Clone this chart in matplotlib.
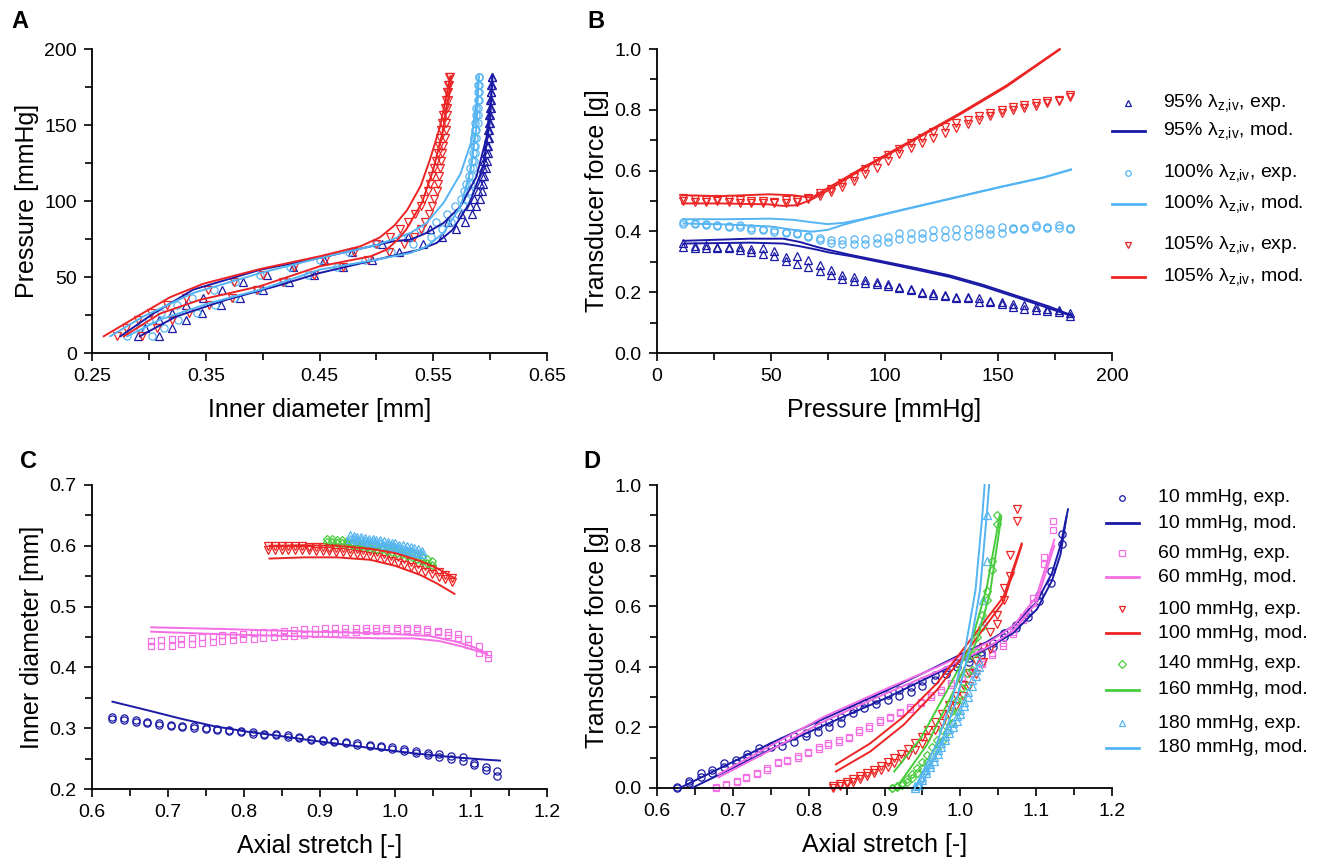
import matplotlib
matplotlib.use('Agg')
import matplotlib.pyplot as plt
from matplotlib.lines import Line2D
from matplotlib.ticker import FixedLocator, MultipleLocator, FormatStrFormatter

plt.rcParams['font.family'] = ['Liberation Sans', 'DejaVu Sans']

# colours
NAVY = '#1a1aa6'
SKY = '#55b4f2'
RED = '#ec2424'
PINK = '#f46ee4'
GREEN = '#48cc3c'

# ---------------- panel A / B : pressure sweeps ----------------
P_EXP = [11.5, 16.5, 21.5, 26.5, 31.5, 36.5, 41.5, 46.5, 51.5, 56.5, 61.5, 66.5,
         71.5, 76.5, 81.5, 86.5, 91.5, 96.5, 101.5, 106.5, 111.5, 116.5, 121.5,
         126.5, 131.5, 136.5, 141.5, 146.5, 151.5, 156.5, 161.5, 166.5, 171.5,
         176.5, 181.5]

# A: inner diameter [mm] of the experimental points (two runs per stretch)
A_D95_EXP1 = [0.290, 0.297, 0.309, 0.320, 0.333, 0.348, 0.364, 0.383, 0.404, 0.427, 0.454,
              0.479, 0.505, 0.528, 0.547, 0.563, 0.574, 0.582, 0.586, 0.589, 0.591, 0.593,
              0.594, 0.595, 0.596, 0.597, 0.598, 0.598, 0.599, 0.599, 0.600, 0.600, 0.601,
              0.601, 0.602]
A_D95_EXP2 = [0.309, 0.320, 0.333, 0.347, 0.363, 0.380, 0.400, 0.423, 0.445, 0.471, 0.496,
              0.520, 0.541, 0.558, 0.570, 0.578, 0.584, 0.588, 0.591, 0.593, 0.594, 0.595,
              0.596, 0.597, 0.598, 0.598, 0.599, 0.599, 0.600, 0.600, 0.601, 0.601, 0.601,
              0.602, 0.602]
A_D100_EXP1 = [0.281, 0.292, 0.300, 0.311, 0.325, 0.338, 0.357, 0.376, 0.398, 0.424, 0.450,
               0.476, 0.500, 0.522, 0.538, 0.552, 0.562, 0.569, 0.574, 0.577, 0.579, 0.581,
               0.582, 0.584, 0.585, 0.586, 0.586, 0.587, 0.587, 0.588, 0.588, 0.589, 0.589,
               0.589, 0.590]
A_D100_EXP2 = [0.303, 0.313, 0.326, 0.342, 0.358, 0.375, 0.395, 0.418, 0.440, 0.465, 0.490,
               0.513, 0.532, 0.548, 0.558, 0.566, 0.572, 0.576, 0.579, 0.581, 0.583, 0.584,
               0.585, 0.586, 0.587, 0.587, 0.588, 0.588, 0.589, 0.589, 0.589, 0.590, 0.590,
               0.590, 0.590]
A_D105_EXP1 = [0.272, 0.280, 0.290, 0.302, 0.316, 0.333, 0.352, 0.375, 0.400, 0.428, 0.455,
               0.480, 0.500, 0.512, 0.521, 0.528, 0.534, 0.539, 0.542, 0.545, 0.547, 0.549,
               0.551, 0.552, 0.554, 0.555, 0.556, 0.557, 0.558, 0.559, 0.560, 0.561, 0.562,
               0.563, 0.564]
A_D105_EXP2 = [0.294, 0.307, 0.320, 0.335, 0.353, 0.373, 0.395, 0.418, 0.445, 0.471, 0.493,
               0.511, 0.524, 0.533, 0.539, 0.543, 0.546, 0.549, 0.551, 0.553, 0.554, 0.555,
               0.556, 0.557, 0.558, 0.559, 0.560, 0.561, 0.561, 0.562, 0.562, 0.563, 0.563,
               0.564, 0.565]

# A: model curves (pressure, diameter)
A_P95_MOD1 = [11, 26, 41.7, 54.8, 62.5, 71, 73.5, 74.6, 79, 85.5, 96.5, 116, 142.5, 171, 182]
A_D95_MOD1 = [0.275, 0.304, 0.339, 0.398, 0.45, 0.5, 0.515, 0.53, 0.544, 0.559, 0.574, 0.588,
              0.597, 0.601, 0.602]
A_P95_MOD2 = [11, 24, 35, 44, 52.6, 61.4, 68, 72.4, 81, 98.7, 122.8, 153.5, 182]
A_D95_MOD2 = [0.292, 0.324, 0.368, 0.412, 0.45, 0.5, 0.538, 0.553, 0.567, 0.582, 0.594, 0.6, 0.602]
A_P100_MOD1 = [11, 24, 39.5, 52.6, 62.5, 71, 79, 85.5, 98.7, 118, 138, 164.5, 182]
A_D100_MOD1 = [0.266, 0.295, 0.339, 0.398, 0.45, 0.5, 0.53, 0.544, 0.559, 0.574, 0.583, 0.588, 0.59]
A_P100_MOD2 = [11, 22, 33, 41.7, 54.8, 61.4, 65.8, 70, 79, 96.5, 120.6, 149, 182]
A_D100_MOD2 = [0.281, 0.31, 0.354, 0.398, 0.45, 0.5, 0.53, 0.544, 0.559, 0.574, 0.583, 0.588, 0.59]
A_P105_MOD1 = [11, 24, 36.8, 45.6, 55.3, 63.6, 70.2, 76, 84, 94, 110, 127, 149, 171, 182]
A_D105_MOD1 = [0.2603, 0.2896, 0.3189, 0.348, 0.398, 0.45, 0.486, 0.503, 0.516, 0.527, 0.539,
               0.547, 0.556, 0.562, 0.565]
A_P105_MOD2 = [11, 26, 35, 44, 57, 63.6, 68, 74, 81, 98.7, 120.6, 144.7, 166.7, 182]
A_D105_MOD2 = [0.278, 0.31, 0.345, 0.398, 0.45, 0.495, 0.509, 0.518, 0.526, 0.540, 0.550, 0.558,
               0.563, 0.566]

# B: transducer force [g] of the experimental points
B_F95_EXP1 = [0.362, 0.352, 0.354, 0.350, 0.350, 0.349, 0.343, 0.345, 0.334, 0.315, 0.319,
              0.307, 0.290, 0.273, 0.257, 0.251, 0.240, 0.232, 0.226, 0.218, 0.212, 0.202,
              0.196, 0.190, 0.185, 0.185, 0.180, 0.171, 0.169, 0.161, 0.157, 0.150, 0.144,
              0.141, 0.133]
B_F95_EXP2 = [0.349, 0.345, 0.345, 0.345, 0.344, 0.338, 0.332, 0.327, 0.318, 0.301, 0.293,
              0.282, 0.271, 0.257, 0.244, 0.238, 0.229, 0.228, 0.222, 0.214, 0.208, 0.198,
              0.192, 0.186, 0.181, 0.181, 0.169, 0.167, 0.161, 0.152, 0.144, 0.141, 0.139,
              0.135, 0.122]
B_F100_EXP1 = [0.431, 0.426, 0.424, 0.420, 0.417, 0.420, 0.412, 0.409, 0.404, 0.398, 0.395,
               0.384, 0.378, 0.373, 0.371, 0.376, 0.376, 0.378, 0.382, 0.395, 0.396, 0.396,
               0.404, 0.404, 0.407, 0.409, 0.412, 0.409, 0.415, 0.412, 0.412, 0.420, 0.415,
               0.420, 0.412]
B_F100_EXP2 = [0.424, 0.423, 0.420, 0.417, 0.415, 0.413, 0.406, 0.403, 0.398, 0.395, 0.390,
               0.382, 0.371, 0.362, 0.360, 0.360, 0.360, 0.362, 0.365, 0.376, 0.376, 0.378,
               0.382, 0.382, 0.385, 0.385, 0.390, 0.393, 0.396, 0.407, 0.407, 0.415, 0.410,
               0.412, 0.409]
B_F105_EXP1 = [0.510, 0.505, 0.503, 0.506, 0.505, 0.502, 0.500, 0.499, 0.498, 0.502, 0.503,
               0.510, 0.525, 0.540, 0.558, 0.580, 0.604, 0.630, 0.652, 0.672, 0.690, 0.708,
               0.726, 0.742, 0.756, 0.768, 0.779, 0.790, 0.800, 0.808, 0.816, 0.822, 0.828,
               0.833, 0.848]
B_F105_EXP2 = [0.500, 0.498, 0.497, 0.500, 0.498, 0.495, 0.494, 0.493, 0.492, 0.495, 0.497,
               0.505, 0.515, 0.530, 0.545, 0.566, 0.588, 0.610, 0.632, 0.655, 0.673, 0.690,
               0.708, 0.724, 0.740, 0.754, 0.766, 0.778, 0.788, 0.798, 0.806, 0.814, 0.822,
               0.830, 0.843]

# B: model curves (pressure, force)
B_P95_MOD = [11.6, 40.9, 55.5, 62.9, 70.2, 76.1, 84.9, 99.5, 114.1, 128.8, 143.4, 158.1, 172.7, 182.2]
B_F95_MOD1 = [0.369, 0.376, 0.376, 0.365, 0.349, 0.338, 0.323, 0.301, 0.279, 0.255, 0.224,
              0.188, 0.152, 0.124]
B_F95_MOD2 = [0.360, 0.363, 0.360, 0.351, 0.340, 0.330, 0.319, 0.297, 0.274, 0.250, 0.219,
              0.183, 0.146, 0.122]
B_P100_MOD = [11.6, 30, 50, 60, 68, 75, 82, 90, 110, 130, 150, 170, 182]
B_F100_MOD1 = [0.440, 0.440, 0.442, 0.438, 0.430, 0.424, 0.428, 0.440, 0.475, 0.510, 0.545,
               0.578, 0.604]
B_F100_MOD2 = [0.426, 0.423, 0.416, 0.405, 0.399, 0.405, 0.422, 0.438, 0.474, 0.509, 0.544,
               0.577, 0.603]
B_P105_MOD1 = [11, 28, 49, 59.6, 68, 74, 91, 112, 133, 153.6, 177]
B_F105_MOD1 = [0.519, 0.516, 0.522, 0.519, 0.511, 0.538, 0.612, 0.700, 0.788, 0.880, 1.0]
B_P105_MOD2 = [11, 28, 49, 55, 61.6, 68, 74, 91, 112, 133, 153.6, 177]
B_F105_MOD2 = [0.492, 0.492, 0.489, 0.484, 0.486, 0.505, 0.530, 0.608, 0.696, 0.784, 0.876, 0.998]

# ---------------- panel C / D : axial stretch sweeps ----------------
L10 = [0.627, 0.642, 0.658, 0.673, 0.688, 0.704, 0.719, 0.735, 0.750, 0.765, 0.781, 0.796,
       0.812, 0.827, 0.842, 0.858, 0.873, 0.889, 0.904, 0.919, 0.935, 0.950, 0.966, 0.981,
       0.996, 1.012, 1.027, 1.043, 1.058, 1.073, 1.089, 1.104, 1.119, 1.134]
L60 = [0.678, 0.691, 0.705, 0.718, 0.732, 0.745, 0.759, 0.772, 0.786, 0.799, 0.813, 0.826,
       0.840, 0.853, 0.867, 0.880, 0.894, 0.907, 0.921, 0.934, 0.948, 0.961, 0.975, 0.988,
       1.002, 1.015, 1.029, 1.042, 1.056, 1.069, 1.083, 1.096, 1.110, 1.122]
L100 = [0.832, 0.841, 0.850, 0.859, 0.868, 0.877, 0.886, 0.895, 0.904, 0.913, 0.922, 0.931,
        0.940, 0.949, 0.958, 0.967, 0.976, 0.985, 0.994, 1.003, 1.012, 1.021, 1.030, 1.039,
        1.048, 1.057, 1.066, 1.075]
L140 = [0.910, 0.917, 0.923, 0.930, 0.936, 0.943, 0.950, 0.956, 0.963, 0.969, 0.976, 0.983,
        0.989, 0.996, 1.002, 1.009, 1.016, 1.022, 1.029, 1.035, 1.042, 1.049]
L180 = [0.940, 0.945, 0.950, 0.955, 0.960, 0.965, 0.970, 0.975, 0.980, 0.985, 0.990, 0.995,
        1.000, 1.005, 1.010, 1.015, 1.020, 1.025, 1.030, 1.035]

# C: inner diameter [mm]
C_D10_EXP1 = [0.319, 0.316, 0.313, 0.311, 0.308, 0.306, 0.304, 0.303, 0.301, 0.299, 0.297,
              0.296, 0.293, 0.291, 0.290, 0.288, 0.286, 0.283, 0.281, 0.279, 0.277, 0.275,
              0.273, 0.271, 0.269, 0.265, 0.263, 0.260, 0.258, 0.254, 0.252, 0.243, 0.237, 0.229]
C_D10_EXP2 = [0.315, 0.313, 0.311, 0.309, 0.306, 0.304, 0.302, 0.301, 0.299, 0.297, 0.295,
              0.294, 0.291, 0.289, 0.288, 0.286, 0.284, 0.281, 0.279, 0.277, 0.275, 0.273,
              0.271, 0.269, 0.266, 0.262, 0.259, 0.256, 0.253, 0.249, 0.246, 0.239, 0.232, 0.222]
C_D60_EXP1 = [0.444, 0.445, 0.446, 0.447, 0.448, 0.450, 0.452, 0.453, 0.454, 0.455, 0.456,
              0.458, 0.459, 0.460, 0.462, 0.463, 0.463, 0.464, 0.464, 0.465, 0.465, 0.465,
              0.465, 0.465, 0.465, 0.464, 0.464, 0.463, 0.460, 0.458, 0.455, 0.447, 0.435, 0.422]
C_D60_EXP2 = [0.435, 0.436, 0.436, 0.438, 0.439, 0.440, 0.442, 0.443, 0.445, 0.446, 0.447,
              0.448, 0.450, 0.451, 0.452, 0.454, 0.455, 0.456, 0.457, 0.458, 0.459, 0.460,
              0.460, 0.462, 0.462, 0.462, 0.462, 0.460, 0.459, 0.453, 0.448, 0.437, 0.424, 0.415]
C_D100_EXP1 = [0.599, 0.599, 0.599, 0.599, 0.599, 0.599, 0.598, 0.598, 0.598, 0.597, 0.597,
               0.596, 0.595, 0.594, 0.593, 0.591, 0.589, 0.587, 0.584, 0.581, 0.578, 0.574,
               0.570, 0.566, 0.562, 0.557, 0.552, 0.547]
C_D100_EXP2 = [0.593, 0.593, 0.593, 0.593, 0.593, 0.593, 0.593, 0.592, 0.592, 0.591, 0.590,
               0.589, 0.588, 0.587, 0.585, 0.583, 0.581, 0.578, 0.575, 0.572, 0.569, 0.565,
               0.561, 0.557, 0.553, 0.549, 0.545, 0.541]
C_D140_EXP1 = [0.612, 0.611, 0.610, 0.609, 0.608, 0.607, 0.606, 0.605, 0.604, 0.602, 0.601,
               0.599, 0.598, 0.596, 0.594, 0.592, 0.590, 0.588, 0.585, 0.582, 0.579, 0.575]
C_D140_EXP2 = [0.606, 0.606, 0.605, 0.604, 0.603, 0.602, 0.601, 0.600, 0.598, 0.597, 0.595,
               0.594, 0.592, 0.590, 0.588, 0.586, 0.584, 0.581, 0.578, 0.575, 0.572, 0.568]
C_D180_EXP1 = [0.617, 0.616, 0.615, 0.614, 0.613, 0.612, 0.611, 0.610, 0.609, 0.608, 0.606,
               0.605, 0.604, 0.602, 0.601, 0.599, 0.598, 0.596, 0.594, 0.592]
C_D180_EXP2 = [0.612, 0.611, 0.610, 0.609, 0.608, 0.607, 0.606, 0.605, 0.604, 0.602, 0.601,
               0.600, 0.598, 0.597, 0.595, 0.593, 0.592, 0.590, 0.588, 0.586]

C_L10_MOD = [0.627, 0.672, 0.716, 0.760, 0.804, 0.848, 0.892, 0.936, 0.980, 1.024, 1.068, 1.112, 1.138]
C_D10_MOD = [0.3436, 0.3299, 0.316, 0.3036, 0.2943, 0.2872, 0.2795, 0.2725, 0.2653, 0.2588,
             0.2533, 0.2489, 0.2467]
C_L60_MOD1 = [0.678, 0.773, 0.891, 0.979, 1.045, 1.080, 1.102, 1.121]
C_D60_MOD1 = [0.4659, 0.4632, 0.4588, 0.456, 0.4517, 0.4423, 0.434, 0.4231]
C_L60_MOD2 = [0.678, 0.773, 0.891, 0.979, 1.023, 1.058, 1.089, 1.121]
C_D60_MOD2 = [0.4588, 0.4544, 0.4506, 0.4478, 0.4478, 0.4434, 0.434, 0.422]
C_L100_MOD = [0.834, 0.880, 0.923, 0.967, 1.000, 1.033, 1.055, 1.078]
C_D100_MOD1 = [0.600, 0.601, 0.600, 0.595, 0.588, 0.575, 0.563, 0.547]
C_D100_MOD2 = [0.579, 0.581, 0.581, 0.577, 0.567, 0.552, 0.538, 0.521]

# D: transducer force [g]
D_F10_EXP1 = [0.003, 0.022, 0.048, 0.058, 0.081, 0.092, 0.112, 0.131, 0.140, 0.155, 0.170,
              0.182, 0.204, 0.219, 0.233, 0.260, 0.280, 0.292, 0.307, 0.322, 0.334, 0.352,
              0.373, 0.390, 0.412, 0.428, 0.450, 0.480, 0.511, 0.538, 0.582, 0.636, 0.717, 0.838]
D_F10_EXP2 = [0.000, 0.015, 0.037, 0.048, 0.070, 0.081, 0.103, 0.120, 0.134, 0.140, 0.152,
              0.170, 0.186, 0.202, 0.216, 0.247, 0.265, 0.278, 0.290, 0.305, 0.318, 0.338,
              0.358, 0.375, 0.398, 0.417, 0.439, 0.465, 0.500, 0.527, 0.565, 0.618, 0.677, 0.806]
D_F60_EXP1 = [0.002, 0.013, 0.023, 0.037, 0.050, 0.065, 0.081, 0.094, 0.105, 0.120, 0.136,
              0.147, 0.158, 0.169, 0.191, 0.204, 0.224, 0.235, 0.251, 0.268, 0.284, 0.306,
              0.323, 0.347, 0.367, 0.387, 0.417, 0.446, 0.477, 0.516, 0.566, 0.626, 0.761, 0.851]
D_F60_EXP2 = [0.000, 0.010, 0.021, 0.034, 0.046, 0.060, 0.087, 0.090, 0.100, 0.115, 0.130,
              0.142, 0.152, 0.165, 0.185, 0.198, 0.218, 0.230, 0.246, 0.262, 0.280, 0.300,
              0.318, 0.340, 0.360, 0.380, 0.410, 0.440, 0.470, 0.508, 0.555, 0.612, 0.740, 0.880]
D_F100_EXP1 = [0.005, 0.012, 0.020, 0.030, 0.040, 0.050, 0.060, 0.072, 0.085, 0.098, 0.112,
               0.128, 0.147, 0.168, 0.192, 0.218, 0.245, 0.275, 0.305, 0.340, 0.378, 0.420,
               0.465, 0.515, 0.570, 0.620, 0.700, 0.880]
D_F100_EXP2 = [0.000, 0.006, 0.013, 0.021, 0.030, 0.039, 0.048, 0.058, 0.070, 0.082, 0.095,
               0.110, 0.126, 0.145, 0.166, 0.190, 0.215, 0.243, 0.272, 0.304, 0.338, 0.375,
               0.415, 0.460, 0.540, 0.660, 0.770, 0.920]
D_F140_EXP1 = [0.000, 0.005, 0.015, 0.030, 0.045, 0.065, 0.085, 0.110, 0.135, 0.160, 0.190,
               0.220, 0.255, 0.290, 0.330, 0.380, 0.440, 0.500, 0.570, 0.650, 0.750, 0.870]
D_F140_EXP2 = [0.000, 0.004, 0.010, 0.020, 0.033, 0.048, 0.065, 0.085, 0.105, 0.130, 0.155,
               0.185, 0.215, 0.250, 0.290, 0.335, 0.390, 0.450, 0.530, 0.620, 0.720, 0.900]
D_F180_EXP1 = [0.005, 0.010, 0.037, 0.059, 0.080, 0.103, 0.125, 0.148, 0.172, 0.195, 0.216,
               0.236, 0.257, 0.285, 0.318, 0.355, 0.390, 0.420, 0.550, 0.750]
D_F180_EXP2 = [0.000, 0.012, 0.028, 0.048, 0.068, 0.090, 0.112, 0.135, 0.158, 0.180, 0.202,
               0.222, 0.245, 0.270, 0.300, 0.335, 0.370, 0.400, 0.620, 0.900]

D_L10_MOD1 = [0.630, 0.691, 0.752, 0.814, 0.855, 0.903, 0.950, 0.980, 1.000, 1.035, 1.070,
              1.101, 1.121, 1.132, 1.142]
D_F10_MOD1 = [0.0, 0.075, 0.150, 0.222, 0.268, 0.322, 0.378, 0.415, 0.440, 0.482, 0.535,
              0.615, 0.710, 0.800, 0.920]
D_L10_MOD2 = [0.646, 0.691, 0.752, 0.814, 0.855, 0.903, 0.950, 0.980, 1.000, 1.035, 1.070,
              1.101, 1.121, 1.132, 1.140]
D_F10_MOD2 = [0.0, 0.055, 0.130, 0.200, 0.245, 0.298, 0.355, 0.392, 0.418, 0.460, 0.512,
              0.590, 0.685, 0.770, 0.895]
D_L60_MOD = [0.681, 0.750, 0.820, 0.900, 0.970, 1.000, 1.040, 1.070, 1.100, 1.124]
D_F60_MOD1 = [0.045, 0.140, 0.235, 0.325, 0.400, 0.435, 0.485, 0.535, 0.630, 0.820]
D_F60_MOD2 = [0.035, 0.125, 0.220, 0.310, 0.385, 0.420, 0.470, 0.520, 0.610, 0.800]
D_L100_MOD = [0.836, 0.881, 0.925, 0.969, 1.013, 1.057, 1.081]
D_F100_MOD1 = [0.078, 0.147, 0.235, 0.345, 0.488, 0.631, 0.807]
D_F100_MOD2 = [0.0545, 0.120, 0.208, 0.323, 0.466, 0.615, 0.802]
D_L160_MOD1 = [0.9128, 0.948, 0.982, 1.013, 1.035, 1.052]
D_F160_MOD1 = [0.0545, 0.165, 0.319, 0.466, 0.664, 0.900]
D_L160_MOD2 = [0.920, 0.956, 0.991, 1.022, 1.039, 1.054]
D_F160_MOD2 = [0.016, 0.143, 0.319, 0.488, 0.642, 0.895]
D_L180_MOD1 = [0.940, 0.945, 0.969, 0.990, 1.007, 1.020, 1.029, 1.032]
D_F180_MOD1 = [0.0, 0.026, 0.147, 0.301, 0.466, 0.653, 0.900, 1.0]
D_L180_MOD2 = [0.947, 0.973, 0.995, 1.013, 1.026, 1.035, 1.038]
D_F180_MOD2 = [0.0, 0.136, 0.290, 0.466, 0.653, 0.906, 1.0]

LAM = r'$\mathregular{\lambda_{z{,}iv}}$'
LEG_B = ['95% ' + LAM + ', exp.', '95% ' + LAM + ', mod.',
         '100% ' + LAM + ', exp.', '100% ' + LAM + ', mod.',
         '105% ' + LAM + ', exp.', '105% ' + LAM + ', mod.']
LEG_D = ['10 mmHg, exp.', '10 mmHg, mod.', '60 mmHg, exp.', '60 mmHg, mod.',
         '100 mmHg, exp.', '100 mmHg, mod.', '140 mmHg, exp.', '160 mmHg, mod.',
         '180 mmHg, exp.', '180 mmHg, mod.']

W, H = 1325, 864
MS = 5.2
LW = 1.4


def style(ax, xlim, ylim, xmajor, xminor, ymajor, yminor, xfmt, yfmt):
    ax.set_xlim(*xlim)
    ax.set_ylim(*ylim)
    for s in ['top', 'right']:
        ax.spines[s].set_visible(False)
    for s in ['left', 'bottom']:
        ax.spines[s].set_linewidth(1.3)
    ax.xaxis.set_major_locator(FixedLocator(xmajor))
    ax.xaxis.set_minor_locator(MultipleLocator(xminor))
    ax.yaxis.set_major_locator(FixedLocator(ymajor))
    ax.yaxis.set_minor_locator(MultipleLocator(yminor))
    ax.xaxis.set_major_formatter(FormatStrFormatter(xfmt))
    ax.yaxis.set_major_formatter(FormatStrFormatter(yfmt))
    ax.tick_params(which='major', direction='out', length=6, width=1.2, labelsize=14, pad=5)
    ax.tick_params(which='minor', direction='out', length=5, width=1.2)


def exp(ax, x, y, color, marker, ms=MS):
    ax.plot(x, y, linestyle='none', marker=marker, ms=ms, mfc='none', mec=color, mew=0.9, zorder=2)


def mod(ax, x, y, color):
    ax.plot(x, y, color=color, lw=LW, zorder=3)


def px_ax(left, top, right, bottom):
    return [left / W, 1 - bottom / H, (right - left) / W, (bottom - top) / H]


def legend(fig, rows, labels, styles, xm, x0, x1, xt):
    for y, lab, (color, marker) in zip(rows, labels, styles):
        yf = 1 - y / H
        if marker is None:
            fig.add_artist(Line2D([x0 / W, x1 / W], [yf, yf], color=color, lw=2.0,
                                  transform=fig.transFigure))
        else:
            fig.add_artist(Line2D([xm / W], [yf], marker=marker, ms=4, mfc='none', mec=color,
                                  mew=0.9, linestyle='none', transform=fig.transFigure))
        fig.text(xt / W, yf, lab, fontsize=14, va='center', ha='left')


fig = plt.figure(figsize=(W / 100, H / 100), dpi=100)

axA = fig.add_axes(px_ax(92, 49, 547, 353))
axB = fig.add_axes(px_ax(657, 49, 1112, 353))
axC = fig.add_axes(px_ax(92, 485, 547, 789))
axD = fig.add_axes(px_ax(657, 485, 1112, 788))

# panel A
exp(axA, A_D95_EXP1, P_EXP, NAVY, '^')
exp(axA, A_D95_EXP2, P_EXP, NAVY, '^')
exp(axA, A_D100_EXP1, P_EXP, SKY, 'o')
exp(axA, A_D100_EXP2, P_EXP, SKY, 'o')
exp(axA, A_D105_EXP1, P_EXP, RED, 'v')
exp(axA, A_D105_EXP2, P_EXP, RED, 'v')
mod(axA, A_D95_MOD1, A_P95_MOD1, NAVY)
mod(axA, A_D95_MOD2, A_P95_MOD2, NAVY)
mod(axA, A_D100_MOD1, A_P100_MOD1, SKY)
mod(axA, A_D100_MOD2, A_P100_MOD2, SKY)
mod(axA, A_D105_MOD1, A_P105_MOD1, RED)
mod(axA, A_D105_MOD2, A_P105_MOD2, RED)
style(axA, (0.25, 0.65), (0, 200), [0.25, 0.35, 0.45, 0.55, 0.65], 0.05,
      [0, 50, 100, 150, 200], 25, '%.2f', '%d')
axA.set_xlabel('Inner diameter [mm]', fontsize=18, labelpad=9)
axA.set_ylabel('Pressure [mmHg]', fontsize=18)

# panel B
exp(axB, P_EXP, B_F95_EXP1, NAVY, '^')
exp(axB, P_EXP, B_F95_EXP2, NAVY, '^')
exp(axB, P_EXP, B_F100_EXP1, SKY, 'o')
exp(axB, P_EXP, B_F100_EXP2, SKY, 'o')
exp(axB, P_EXP, B_F105_EXP1, RED, 'v')
exp(axB, P_EXP, B_F105_EXP2, RED, 'v')
mod(axB, B_P95_MOD, B_F95_MOD1, NAVY)
mod(axB, B_P95_MOD, B_F95_MOD2, NAVY)
mod(axB, B_P100_MOD, B_F100_MOD1, SKY)
mod(axB, B_P100_MOD, B_F100_MOD2, SKY)
mod(axB, B_P105_MOD1, B_F105_MOD1, RED)
mod(axB, B_P105_MOD2, B_F105_MOD2, RED)
style(axB, (0, 200), (0, 1.0), [0, 50, 100, 150, 200], 25,
      [0, 0.2, 0.4, 0.6, 0.8, 1.0], 0.1, '%d', '%.1f')
axB.set_xlabel('Pressure [mmHg]', fontsize=18, labelpad=9)
axB.set_ylabel('Transducer force [g]', fontsize=18)

# panel C
exp(axC, L10, C_D10_EXP1, NAVY, 'o')
exp(axC, L10, C_D10_EXP2, NAVY, 'o')
exp(axC, L60, C_D60_EXP1, PINK, 's', 4.8)
exp(axC, L60, C_D60_EXP2, PINK, 's', 4.8)
exp(axC, L100, C_D100_EXP1, RED, 'v')
exp(axC, L100, C_D100_EXP2, RED, 'v')
exp(axC, L140, C_D140_EXP1, GREEN, 'D', 3.6)
exp(axC, L140, C_D140_EXP2, GREEN, 'D', 3.6)
exp(axC, L180, C_D180_EXP1, SKY, '^')
exp(axC, L180, C_D180_EXP2, SKY, '^')
mod(axC, C_L10_MOD, C_D10_MOD, NAVY)
mod(axC, C_L60_MOD1, C_D60_MOD1, PINK)
mod(axC, C_L60_MOD2, C_D60_MOD2, PINK)
mod(axC, C_L100_MOD, C_D100_MOD1, RED)
mod(axC, C_L100_MOD, C_D100_MOD2, RED)
style(axC, (0.6, 1.2), (0.2, 0.7), [0.6, 0.7, 0.8, 0.9, 1.0, 1.1, 1.2], 0.05,
      [0.2, 0.3, 0.4, 0.5, 0.6, 0.7], 0.05, '%.1f', '%.1f')
axC.set_xlabel('Axial stretch [-]', fontsize=18, labelpad=9)
axC.set_ylabel('Inner diameter [mm]', fontsize=18)

# panel D
exp(axD, L10, D_F10_EXP1, NAVY, 'o')
exp(axD, L10, D_F10_EXP2, NAVY, 'o')
exp(axD, L60, D_F60_EXP1, PINK, 's', 4.8)
exp(axD, L60, D_F60_EXP2, PINK, 's', 4.8)
exp(axD, L100, D_F100_EXP1, RED, 'v')
exp(axD, L100, D_F100_EXP2, RED, 'v')
exp(axD, L140, D_F140_EXP1, GREEN, 'D', 3.6)
exp(axD, L140, D_F140_EXP2, GREEN, 'D', 3.6)
exp(axD, L180, D_F180_EXP1, SKY, '^')
exp(axD, L180, D_F180_EXP2, SKY, '^')
mod(axD, D_L10_MOD1, D_F10_MOD1, NAVY)
mod(axD, D_L10_MOD2, D_F10_MOD2, NAVY)
mod(axD, D_L60_MOD, D_F60_MOD1, PINK)
mod(axD, D_L60_MOD, D_F60_MOD2, PINK)
mod(axD, D_L100_MOD, D_F100_MOD1, RED)
mod(axD, D_L100_MOD, D_F100_MOD2, RED)
mod(axD, D_L160_MOD1, D_F160_MOD1, GREEN)
mod(axD, D_L160_MOD2, D_F160_MOD2, GREEN)
mod(axD, D_L180_MOD1, D_F180_MOD1, SKY)
mod(axD, D_L180_MOD2, D_F180_MOD2, SKY)
style(axD, (0.6, 1.2), (0, 1.0), [0.6, 0.7, 0.8, 0.9, 1.0, 1.1, 1.2], 0.05,
      [0, 0.2, 0.4, 0.6, 0.8, 1.0], 0.1, '%.1f', '%.1f')
axD.set_xlabel('Axial stretch [-]', fontsize=18, labelpad=9)
axD.set_ylabel('Transducer force [g]', fontsize=18)

for ax in (axA, axB, axC, axD):
    for line in ax.lines:
        line.set_clip_on(False)

# legends
legend(fig, [103, 131, 173, 204, 245, 277], LEG_B,
       [(NAVY, '^'), (NAVY, None), (SKY, 'o'), (SKY, None), (RED, 'v'), (RED, None)],
       1128, 1112, 1145, 1163)
legend(fig, [498, 523, 553, 577, 609, 633, 664, 690, 723, 748], LEG_D,
       [(NAVY, 'o'), (NAVY, None), (PINK, 's'), (PINK, None), (RED, 'v'), (RED, None),
        (GREEN, 'D'), (GREEN, None), (SKY, '^'), (SKY, None)],
       1122, 1106, 1139, 1158)

# panel letters
for lab, x, y in [('A', 20, 22), ('B', 596, 22), ('C', 28, 462), ('D', 592, 462)]:
    fig.text(x / W, 1 - y / H, lab, fontsize=17, fontweight='bold', ha='center', va='center')

fig.savefig('out.png', dpi=100)
